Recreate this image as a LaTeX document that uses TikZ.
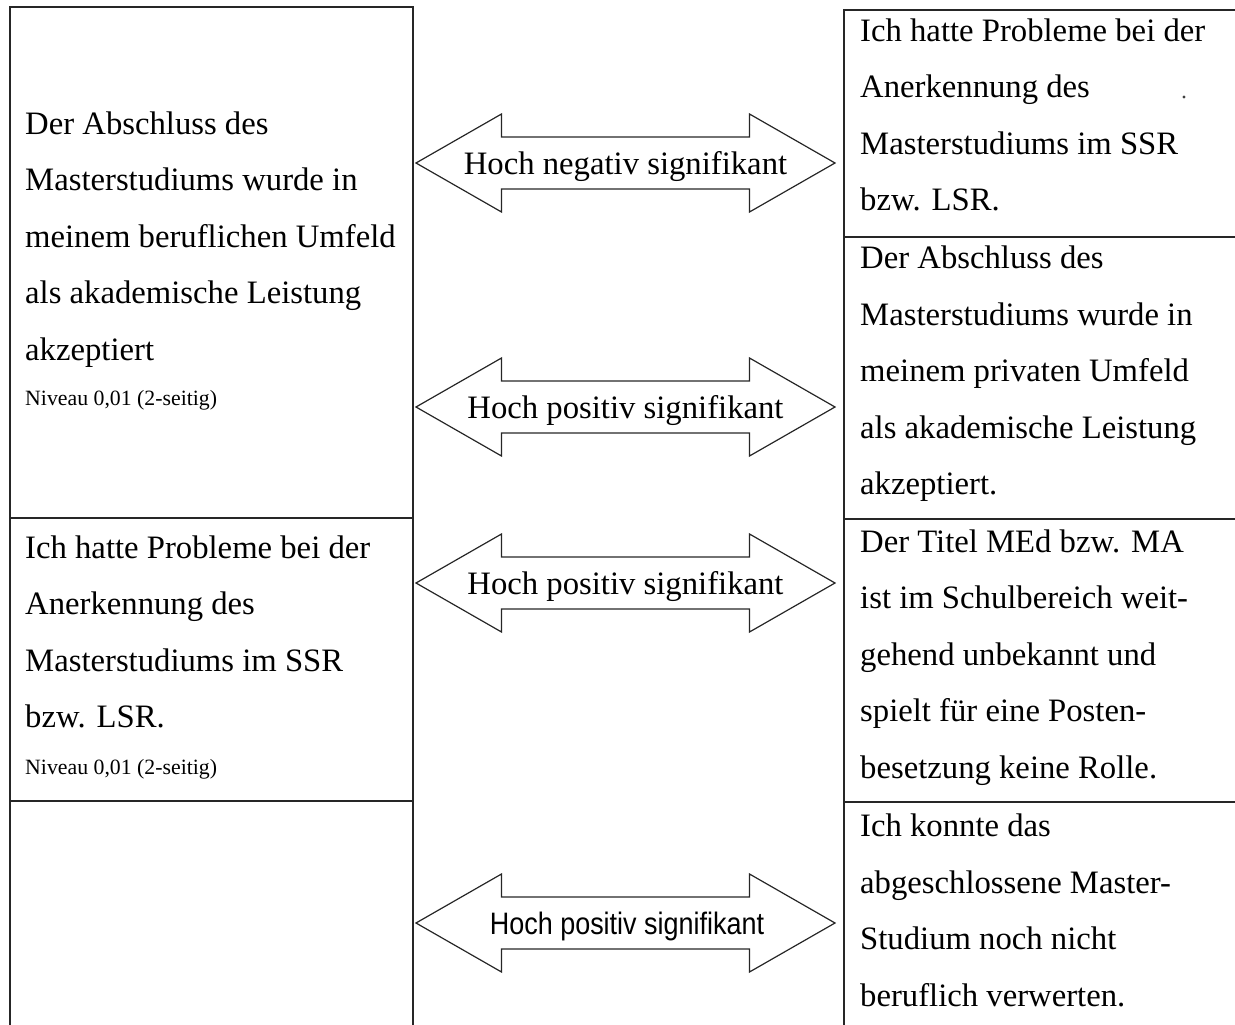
\documentclass[tikz,border=0pt]{standalone}
\usepackage{fontspec}
\setmainfont{Liberation Serif}
\newfontfamily\narrowsans[FakeStretch=0.87]{Liberation Sans}
\begin{document}
\begin{tikzpicture}[x=1pt,y=-1pt,
  frame/.style={draw=black!85,line width=1.4pt},
  % multi-line blocks are placed by the baseline of their last line
  boxtext/.style={inner sep=0pt,anchor=base west,align=left,
    font=\fontsize{32.7}{56.5}\selectfont},
  smalltext/.style={inner sep=0pt,anchor=base west,
    font=\fontsize{21.8}{26}\selectfont},
  arrowlabel/.style={inner sep=0pt,anchor=base,
    font=\fontsize{32.7}{40}\selectfont},
  biarrow/.pic={
    \draw[frame,line width=1.2pt,line join=miter]
      (-209.5,0) -- (-124,-49) -- (-124,-26) -- (124,-26) -- (124,-49)
      -- (209.5,0) -- (124,49) -- (124,26) -- (-124,26) -- (-124,49) -- cycle;
  }]
\useasboundingbox (0,0) rectangle (1235,1025);

% left column
\draw[frame] (10,7) rectangle (413,518);
\draw[frame] (10,518) rectangle (413,801);
\draw[frame] (10,801) rectangle (413,1040);
% right column (runs past the right edge)
\draw[frame] (844,10) rectangle (1245,237);
\draw[frame] (844,237) rectangle (1245,519);
\draw[frame] (844,519) rectangle (1245,802);
\draw[frame] (844,802) rectangle (1245,1040);

% left texts
\node[boxtext] (l1) at (25,360) {Der Abschluss des\\Masterstudiums wurde in\\meinem beruflichen Umfeld\\als akademische Leistung\\akzeptiert};
\node[smalltext] (l1n) at (25,405) {Niveau 0,01 (2-seitig)};
\node[boxtext] (l2) at (25,727.5) {Ich hatte Probleme bei der\\Anerkennung des\\Masterstudiums im SSR\\bzw. LSR.};
\node[smalltext] (l2n) at (25,774) {Niveau 0,01 (2-seitig)};

% right texts
\node[boxtext] (r1) at (860,210.5) {Ich hatte Probleme bei der\\Anerkennung des\\Masterstudiums im SSR\\bzw. LSR.};
\node[boxtext] (r2) at (860,494.5) {Der Abschluss des\\Masterstudiums wurde in\\meinem privaten Umfeld\\als akademische Leistung\\akzeptiert.};
\node[boxtext] (r3) at (860,778) {Der Titel MEd bzw. MA\\ist im Schulbereich weit-\\gehend unbekannt und\\spielt für eine Posten-\\besetzung keine Rolle.};
\node[boxtext] (r4) at (860,1006) {Ich konnte das\\abgeschlossene Master-\\Studium noch nicht\\beruflich verwerten.};
\fill[black!75] (1184,97) circle (1.7);

% double arrows with their labels
\pic at (625.5,163) {biarrow};
\node[arrowlabel] (a1) at (625.5,174) {Hoch negativ signifikant};
\pic at (625.5,407) {biarrow};
\node[arrowlabel] (a2) at (625.5,418) {Hoch positiv signifikant};
\pic at (625.5,583) {biarrow};
\node[arrowlabel] (a3) at (625.5,594) {Hoch positiv signifikant};
\pic at (625.5,923) {biarrow};
\node[arrowlabel,font=\narrowsans\fontsize{31}{36}\selectfont] (a4) at (627,934) {Hoch positiv signifikant};
\end{tikzpicture}
\end{document}
